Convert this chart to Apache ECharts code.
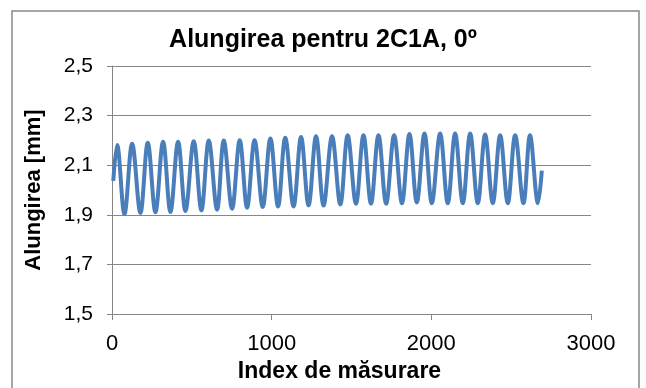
<!DOCTYPE html>
<html>
<head>
<meta charset="utf-8">
<script src="https://cdn.jsdelivr.net/npm/echarts@6/dist/echarts.min.js"></script>
<style>html,body{margin:0;padding:0;background:#fff;}#chart{width:646px;height:388px;}</style>
</head>
<body>
<div id="chart"></div>
<script>
// Measurement index (x) at each read extremum, in drawing order
const measurementIndex = [8, 32, 78, 126, 178, 224, 272, 320, 366, 414, 460, 512, 560, 606, 658, 700, 752, 800, 846, 893, 944, 992, 1040, 1085, 1137, 1184, 1231, 1278, 1325, 1378, 1430, 1476, 1528, 1575, 1622, 1669, 1717, 1767, 1816, 1863, 1909, 1957, 2003, 2055, 2103, 2149, 2197, 2243, 2291, 2337, 2385, 2431, 2479, 2525, 2577, 2618, 2668, 2692];
// Elongation [mm] at those indices
const elongation = [2.037, 2.182, 1.903, 2.187, 1.908, 2.191, 1.911, 2.195, 1.912, 2.195, 1.916, 2.197, 1.918, 2.200, 1.921, 2.200, 1.925, 2.201, 1.929, 2.201, 1.932, 2.208, 1.934, 2.211, 1.934, 2.214, 1.938, 2.217, 1.938, 2.217, 1.942, 2.221, 1.945, 2.221, 1.945, 2.221, 1.945, 2.221, 1.947, 2.226, 1.950, 2.228, 1.947, 2.228, 1.947, 2.228, 1.947, 2.228, 1.947, 2.224, 1.947, 2.221, 1.947, 2.221, 1.947, 2.221, 1.947, 2.078];
const yTickLabels = ['1,5', '1,7', '1,9', '2,1', '2,3', '2,5'];
const xTickLabels = ['0', '1000', '2000', '3000'];

const FONT = 'Liberation Sans, Arial, sans-serif';
const chart = echarts.init(document.getElementById('chart'), null, {renderer: 'canvas'});
const seriesData = measurementIndex.map((x, i) => [x, elongation[i]]);

chart.setOption({
  animation: false,
  backgroundColor: '#ffffff',
  graphic: [{
    type: 'rect',
    shape: {x: 12, y: 11, width: 627, height: 420},
    style: {fill: 'none', stroke: '#898989', lineWidth: 1.5},
    silent: true
  }],
  title: {
    text: 'Alungirea pentru 2C1A, 0º',
    left: 'center',
    top: 23,
    textStyle: {fontFamily: FONT, fontSize: 25, fontWeight: 'bold', color: '#000'}
  },
  grid: {left: 112, right: 55, top: 66, bottom: 69, containLabel: false},
  xAxis: {
    type: 'value',
    min: 0, max: 3000, interval: 1000,
    name: 'Index de măsurare',
    nameLocation: 'middle',
    nameGap: 44,
    nameTextStyle: {fontFamily: FONT, fontSize: 23, fontWeight: 'bold', color: '#000', padding: [0, 24, 0, 0]},
    axisLine: {show: true, lineStyle: {color: '#868686', width: 1}},
    axisTick: {show: true, inside: false, length: 6, lineStyle: {color: '#868686'}},
    axisLabel: {fontFamily: FONT, fontSize: 22, color: '#000', margin: 19,
      formatter: v => xTickLabels[Math.round(v / 1000)]},
    splitLine: {show: false}
  },
  yAxis: {
    type: 'value',
    min: 1.5, max: 2.5, interval: 0.2,
    name: 'Alungirea [mm]',
    nameLocation: 'middle',
    nameGap: 67,
    nameRotate: 90,
    nameTextStyle: {fontFamily: FONT, fontSize: 22, fontWeight: 'bold', color: '#000'},
    axisLine: {show: true, lineStyle: {color: '#868686', width: 1}},
    axisTick: {show: true, inside: false, length: 5, lineStyle: {color: '#868686'}},
    axisLabel: {fontFamily: FONT, fontSize: 21, color: '#000', margin: 19,
      formatter: v => yTickLabels[Math.round((v - 1.5) / 0.2)]},
    splitLine: {show: true, lineStyle: {color: '#868686', width: 1}}
  },
  series: [{
    type: 'line',
    data: seriesData,
    showSymbol: false,
    smooth: 0.36,
    lineStyle: {color: '#4A7EBB', width: 4},
    itemStyle: {color: '#4A7EBB'}
  }]
});
</script>
</body>
</html>
